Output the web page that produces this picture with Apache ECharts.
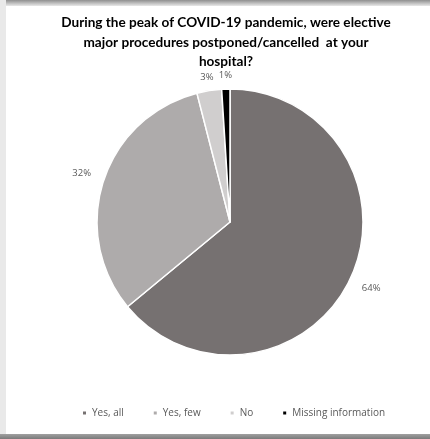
<!DOCTYPE html>
<html>
<head>
<meta charset="utf-8">
<script src="https://cdn.jsdelivr.net/npm/echarts@6/dist/echarts.min.js"></script>
<style>
  html, body { margin: 0; padding: 0; background: #ffffff; }
  #chart { width: 430px; height: 439px; }
</style>
</head>
<body>
<div id="chart"></div>
<script>
// Survey answers and their shares (percent)
const categories = ['Yes, all', 'Yes, few', 'No', 'Missing information'];
const shares = [64, 32, 3, 1];
const sliceColors = ['#767171', '#aeabab', '#d0cece', '#000000'];
const titleText = 'During the peak of COVID-19 pandemic, were elective\nmajor procedures postponed/cancelled  at your\nhospital?';

const chart = echarts.init(document.getElementById('chart'), null, { renderer: 'canvas' });

const pieData = categories.map((name, i) => ({
  name: name,
  value: shares[i],
  itemStyle: { color: sliceColors[i] }
}));

// transparent rings that carry the percentage labels just outside the pie:
// the wide slices get their label a bit farther out than the thin ones
const isThin = shares.map(v => v < 10);
const ringData = thin => categories.map((name, i) => ({
  name: name,
  value: shares[i],
  label: { show: isThin[i] === thin }
}));

const labelStyle = {
  position: 'inside',
  formatter: '{c}%',
  fontFamily: 'Open Sans',
  fontSize: 9.5,
  color: '#595959'
};

function labelRing(radius, thin) {
  return {
    type: 'pie',
    center: [230, 222],
    radius: radius,
    startAngle: 90,
    clockwise: true,
    silent: true,
    avoidLabelOverlap: false,
    itemStyle: { color: 'rgba(0,0,0,0)', borderWidth: 0 },
    label: labelStyle,
    labelLine: { show: false },
    emphasis: { disabled: true },
    data: ringData(thin)
  };
}

chart.setOption({
  backgroundColor: '#ffffff',
  animation: false,
  title: {
    text: titleText,
    left: 221,
    textAlign: 'center',
    top: 8,
    textStyle: {
      fontFamily: 'Lato',
      fontWeight: 'bold',
      fontSize: 13.6,
      lineHeight: 19.5,
      color: '#000000'
    }
  },
  legend: {
    bottom: 16,
    left: 76,
    icon: 'rect',
    itemWidth: 5,
    itemHeight: 5,
    itemGap: 28,
    selectedMode: false,
    textStyle: { fontFamily: 'Open Sans', fontSize: 10, color: '#595959' },
    data: categories
  },
  graphic: [
    // window frame around the chart area
    { type: 'rect', shape: { x: 0, y: 0, width: 430, height: 6 }, silent: true,
      style: { fill: new echarts.graphic.LinearGradient(0, 0, 0, 1, [
        { offset: 0, color: '#8f8f8f' }, { offset: 1, color: '#e8e8e8' }]) } },
    { type: 'rect', shape: { x: 0, y: 0, width: 6, height: 439 }, silent: true,
      style: { fill: '#e9e9e9' } },
    { type: 'rect', shape: { x: 0, y: 434, width: 430, height: 5 }, silent: true,
      style: { fill: new echarts.graphic.LinearGradient(0, 0, 0, 1, [
        { offset: 0, color: '#a0a0a0' }, { offset: 1, color: '#7a7a7a' }]) } }
  ],
  series: [{
    type: 'pie',
    center: [230, 222],
    radius: [0, 133],
    startAngle: 90,
    clockwise: true,
    avoidLabelOverlap: false,
    itemStyle: { borderColor: '#ffffff', borderWidth: 1.5 },
    label: { show: false },
    labelLine: { show: false },
    emphasis: { disabled: true },
    data: pieData
  },
  labelRing([133, 173], false),
  labelRing([133, 155], true)
  ]
});
</script>
</body>
</html>
